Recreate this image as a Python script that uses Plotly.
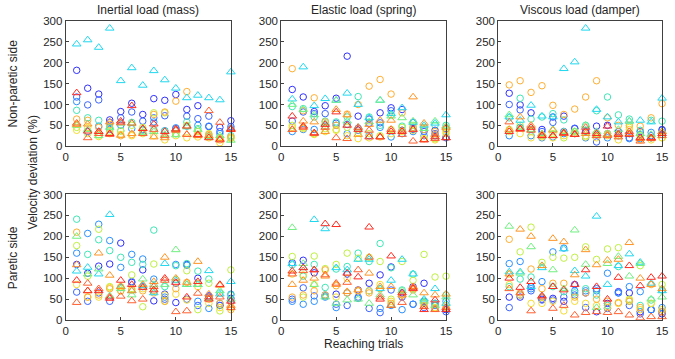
import plotly.graph_objects as go

trials = list(range(1, 16))

panel_titles = ["Inertial load (mass)", "Elastic load (spring)", "Viscous load (damper)"]
row_labels = ["Non-paretic side", "Paretic side"]
y_ticks = [0, 50, 100, 150, 200, 250, 300]
x_ticks = [0, 5, 10, 15]

# series: subject colour and marker shape
series_colors = ["#3030ff", "#3c64ff", "#2a90ff", "#3ee6b4", "#bff040", "#f5dc30",
                 "#ffae30", "#20d8f0", "#70f080", "#ff9424", "#ff6030", "#ff2a20"]
series_symbols = ["circle-open"] * 7 + ["triangle-up-open"] * 5

# Non-paretic side
inertial_np = [
    [182, 139, 125, 63, 83, 103, 76, 114, 110, 124, 88, 97, 47, 45, 61],
    [118, 99, 111, 57, 68, 82, 60, 68, 73, 42, 72, 66, 72, 35, 47],
    [107, 35, 48, 40, 50, 42, 40, 58, 37, 44, 48, 50, 48, 30, 42],
    [86, 68, 62, 45, 37, 57, 38, 40, 36, 30, 58, 42, 25, 20, 25],
    [45, 30, 27, 35, 36, 50, 45, 80, 80, 30, 50, 35, 30, 20, 18],
    [38, 45, 23, 30, 28, 25, 30, 25, 15, 25, 20, 22, 20, 8, 20],
    [65, 62, 45, 52, 25, 28, 33, 76, 82, 108, 131, 28, 28, 15, 22],
    [245, 255, 237, 283, 157, 188, 146, 181, 159, 139, 116, 122, 116, 111, 178],
    [50, 40, 25, 45, 55, 55, 33, 35, 28, 27, 46, 40, 22, 25, 14],
    [52, 53, 35, 58, 26, 30, 42, 22, 20, 40, 28, 25, 25, 18, 40],
    [55, 20, 30, 28, 56, 55, 30, 40, 25, 38, 28, 28, 85, 57, 42],
    [128, 36, 35, 30, 60, 97, 42, 53, 35, 41, 48, 27, 20, 15, 40],
]
elastic_np = [
    [136, 118, 83, 97, 115, 216, 72, 65, 80, 92, 88, 57, 40, 38, 42],
    [60, 82, 78, 78, 55, 52, 43, 55, 56, 85, 38, 40, 35, 30, 20],
    [35, 40, 40, 48, 50, 30, 38, 25, 45, 22, 30, 35, 25, 25, 22],
    [95, 90, 70, 60, 58, 70, 119, 70, 50, 75, 48, 45, 45, 50, 50],
    [50, 45, 30, 42, 40, 45, 32, 30, 25, 40, 45, 50, 18, 18, 35],
    [45, 42, 28, 35, 38, 25, 18, 20, 22, 30, 35, 38, 18, 15, 30],
    [186, 85, 116, 58, 50, 77, 100, 144, 160, 125, 80, 45, 40, 35, 40],
    [113, 190, 97, 114, 110, 127, 100, 68, 110, 78, 92, 57, 50, 55, 75],
    [100, 88, 75, 55, 110, 60, 45, 58, 110, 72, 68, 60, 42, 60, 48],
    [40, 60, 58, 35, 88, 75, 28, 52, 62, 62, 38, 118, 55, 28, 45],
    [40, 45, 30, 45, 20, 18, 45, 38, 22, 40, 28, 12, 15, 18, 20],
    [72, 48, 32, 52, 82, 50, 40, 22, 22, 35, 35, 40, 15, 22, 20],
]
viscous_np = [
    [127, 99, 80, 40, 70, 72, 42, 35, 48, 50, 35, 30, 35, 20, 40],
    [100, 87, 40, 35, 57, 35, 43, 38, 10, 30, 30, 20, 28, 25, 38],
    [25, 45, 25, 20, 22, 30, 30, 20, 28, 20, 25, 18, 18, 33, 28],
    [68, 115, 65, 70, 78, 63, 35, 50, 85, 118, 75, 65, 38, 62, 60],
    [40, 50, 35, 25, 30, 20, 35, 25, 30, 30, 25, 45, 25, 20, 20],
    [35, 30, 20, 22, 20, 25, 30, 22, 20, 25, 15, 40, 15, 15, 20],
    [147, 157, 129, 145, 98, 76, 89, 118, 157, 68, 50, 50, 48, 68, 102],
    [70, 62, 98, 72, 70, 186, 202, 283, 88, 70, 58, 60, 62, 58, 115],
    [75, 45, 40, 30, 40, 35, 35, 50, 35, 28, 40, 60, 30, 28, 35],
    [40, 70, 50, 28, 38, 30, 28, 30, 25, 28, 30, 30, 18, 20, 35],
    [58, 40, 38, 25, 25, 30, 28, 45, 25, 25, 22, 35, 12, 18, 25],
    [35, 42, 45, 25, 25, 32, 28, 35, 30, 48, 28, 28, 20, 20, 30],
]

# Paretic side
inertial_p = [
    [133, 112, 129, 134, 184, 90, 120, 46, 62, 42, 133, 100, 58, 35, 52],
    [67, 45, 65, 45, 78, 92, 80, 70, 50, 88, 50, 35, 55, 35, 45],
    [160, 207, 229, 190, 126, 157, 146, 98, 55, 133, 131, 45, 28, 40, 62],
    [241, 157, 192, 166, 150, 138, 133, 215, 80, 130, 135, 117, 98, 65, 60],
    [178, 105, 217, 80, 70, 108, 32, 134, 45, 97, 118, 25, 88, 22, 120],
    [85, 55, 55, 78, 80, 75, 75, 70, 60, 62, 48, 80, 40, 30, 30],
    [210, 55, 60, 75, 70, 72, 70, 65, 45, 75, 90, 88, 50, 40, 25],
    [117, 126, 110, 252, 80, 70, 82, 65, 135, 95, 85, 85, 118, 62, 92],
    [200, 110, 122, 58, 75, 60, 98, 85, 85, 168, 85, 85, 52, 70, 50],
    [132, 70, 160, 107, 80, 70, 85, 92, 150, 100, 90, 140, 62, 83, 35],
    [42, 88, 75, 55, 57, 46, 50, 80, 95, 20, 22, 64, 55, 55, 30],
    [95, 70, 70, 52, 95, 85, 78, 72, 100, 90, 55, 92, 50, 85, 45],
]
elastic_p = [
    [137, 143, 113, 60, 62, 110, 72, 88, 108, 127, 65, 80, 88, 40, 25],
    [50, 77, 58, 58, 38, 35, 55, 28, 18, 72, 55, 38, 30, 28, 20],
    [45, 38, 45, 55, 30, 65, 52, 70, 28, 35, 25, 38, 45, 35, 45],
    [132, 105, 133, 78, 122, 128, 160, 140, 183, 125, 72, 110, 42, 40, 60],
    [152, 55, 153, 123, 133, 160, 148, 150, 140, 50, 140, 95, 157, 103, 105],
    [110, 108, 85, 60, 55, 100, 70, 70, 85, 45, 60, 75, 40, 30, 35],
    [55, 60, 70, 120, 82, 65, 70, 65, 75, 40, 60, 72, 35, 28, 30],
    [135, 125, 240, 218, 125, 120, 145, 145, 75, 95, 145, 110, 50, 75, 40],
    [221, 135, 85, 55, 40, 48, 50, 40, 60, 35, 70, 60, 45, 35, 55],
    [85, 95, 100, 105, 85, 68, 72, 112, 80, 80, 60, 80, 65, 60, 62],
    [110, 118, 120, 108, 88, 90, 120, 150, 55, 35, 42, 78, 32, 25, 30],
    [117, 125, 120, 230, 228, 112, 103, 222, 50, 153, 65, 75, 25, 48, 25],
]
viscous_p = [
    [55, 55, 80, 50, 52, 45, 85, 65, 20, 40, 68, 65, 20, 25, 15],
    [30, 60, 70, 48, 48, 55, 60, 30, 75, 28, 65, 35, 15, 25, 20],
    [135, 140, 75, 92, 163, 172, 70, 70, 70, 112, 65, 80, 68, 25, 30],
    [80, 98, 103, 55, 80, 68, 65, 75, 60, 35, 128, 45, 35, 48, 72],
    [110, 163, 222, 138, 150, 148, 150, 175, 145, 170, 173, 50, 130, 40, 85],
    [85, 60, 40, 40, 45, 22, 45, 40, 35, 30, 40, 48, 25, 40, 25],
    [193, 65, 122, 75, 88, 88, 55, 65, 50, 45, 42, 45, 30, 85, 20],
    [115, 115, 80, 125, 80, 170, 118, 105, 248, 85, 130, 158, 138, 88, 70],
    [224, 112, 175, 130, 120, 75, 215, 133, 30, 135, 152, 105, 135, 50, 55],
    [110, 217, 200, 130, 195, 187, 108, 168, 132, 143, 145, 185, 100, 85, 75],
    [75, 65, 22, 55, 28, 35, 12, 18, 20, 18, 20, 12, 5, 8, 8],
    [100, 78, 92, 58, 80, 72, 85, 120, 80, 50, 102, 130, 82, 102, 105],
]

panels = [inertial_np, elastic_np, viscous_np, inertial_p, elastic_p, viscous_p]

x_domains = [[0.0941, 0.3422], [0.4178, 0.6652], [0.7437, 0.9896]]
y_domains = [[0.5961, 0.9563], [0.0947, 0.4568]]

FONT = "Liberation Sans, Arial, sans-serif"
fig = go.Figure()
layout = dict(
    width=675, height=359,
    margin=dict(l=0, r=0, t=0, b=0),
    paper_bgcolor="white", plot_bgcolor="white",
    showlegend=False,
    font=dict(family=FONT, size=11, color="#262626"),
)

for p, data in enumerate(panels):
    row, col = divmod(p, 3)
    idx = p + 1
    xa = "x" if idx == 1 else f"x{idx}"
    ya = "y" if idx == 1 else f"y{idx}"
    for s, vals in enumerate(data):
        sym = series_symbols[s]
        fig.add_trace(go.Scatter(
            x=trials, y=vals, mode="markers", xaxis=xa, yaxis=ya,
            cliponaxis=False,
            marker=dict(symbol=sym, size=6.5 if "circle" in sym else 7.5,
                        color=series_colors[s],
                        line=dict(width=1, color=series_colors[s])),
        ))
    axcommon = dict(showline=True, mirror=True, linecolor="#404040", linewidth=1,
                    ticks="inside", ticklen=3, tickcolor="#404040",
                    showgrid=False, zeroline=False,
                    tickfont=dict(family=FONT, size=11.5, color="#262626"))
    layout["xaxis" if idx == 1 else f"xaxis{idx}"] = dict(
        domain=x_domains[col], range=[0, 15], tickvals=x_ticks,
        anchor=ya, **axcommon)
    layout["yaxis" if idx == 1 else f"yaxis{idx}"] = dict(
        domain=y_domains[row], range=[0, 300], tickvals=y_ticks,
        anchor=xa, **axcommon)

ann = []
for c, t in enumerate(panel_titles):
    ann.append(dict(text=t, x=sum(x_domains[c]) / 2, y=y_domains[0][1] + 0.006,
                    xref="paper", yref="paper", xanchor="center", yanchor="bottom",
                    showarrow=False, font=dict(family=FONT, size=12, color="#262626")))
for r, t in enumerate(row_labels):
    ann.append(dict(text=t, x=10 / 675, y=sum(y_domains[r]) / 2,
                    xref="paper", yref="paper", xanchor="center", yanchor="middle",
                    textangle=-90, showarrow=False,
                    font=dict(family=FONT, size=12, color="#262626")))
ann.append(dict(text="Velocity deviation (%)", x=31 / 675, y=1 - 172 / 359,
                xref="paper", yref="paper", xanchor="center", yanchor="middle",
                textangle=-90, showarrow=False,
                font=dict(family=FONT, size=12, color="#262626")))
ann.append(dict(text="Reaching trials", x=sum(x_domains[1]) / 2, y=1 - 350 / 359,
                xref="paper", yref="paper", xanchor="center", yanchor="middle",
                showarrow=False, font=dict(family=FONT, size=12, color="#262626")))
layout["annotations"] = ann

fig.update_layout(**layout)
fig.write_html("out.html", config={"displayModeBar": False},
               post_script="document.body.style.margin='0';document.body.style.overflow='hidden';")
